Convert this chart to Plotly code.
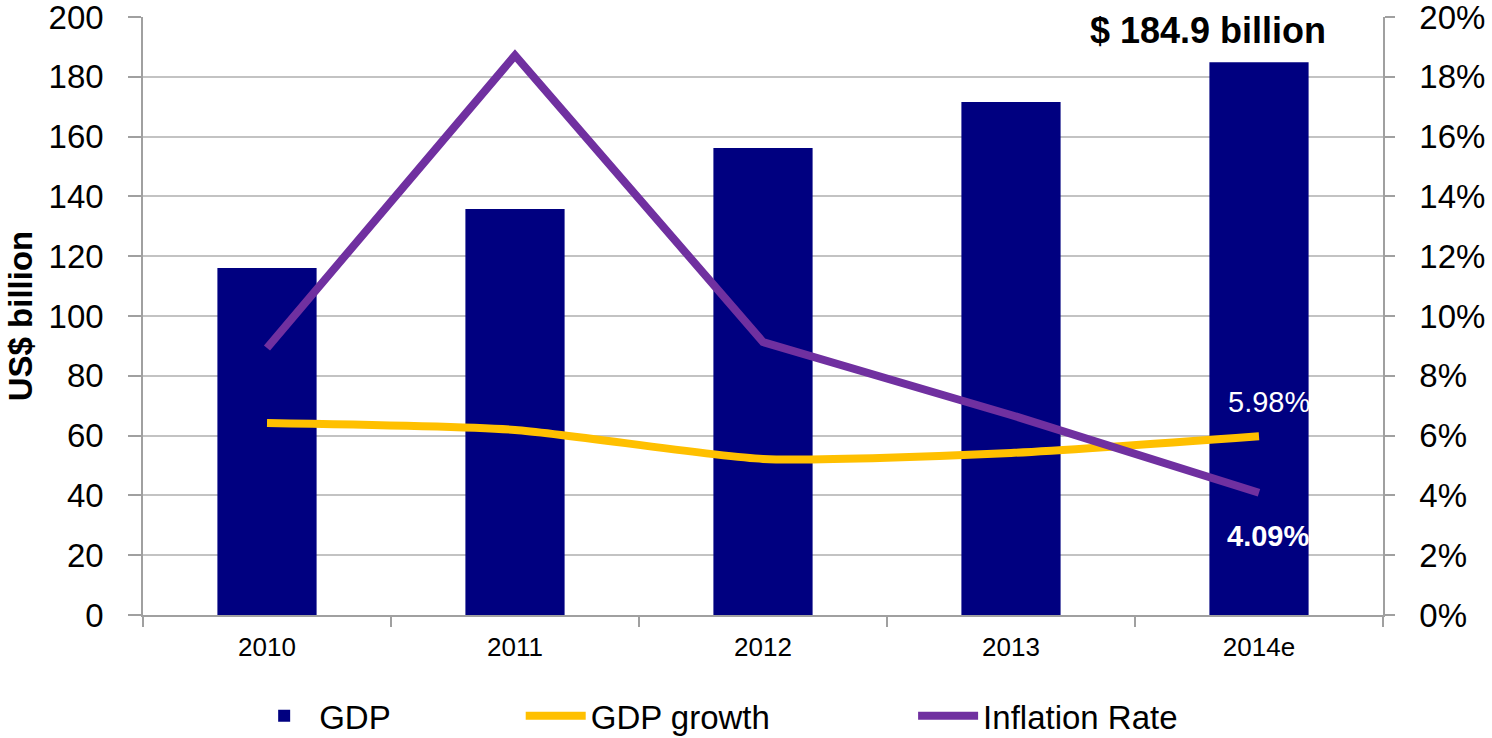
import plotly.graph_objects as go

years = ["2010", "2011", "2012", "2013", "2014e"]
gdp = [116.1, 135.8, 156.2, 171.6, 184.9]          # US$ billion
gdp_growth = [6.42, 6.19, 5.22, 5.42, 5.98]        # %
inflation = [8.93, 18.72, 9.13, 6.69, 4.09]        # %
left_ticks = list(range(0, 201, 20))
right_ticks = list(range(0, 21, 2))

FONT = "Liberation Sans, Arial, sans-serif"
NAVY = "#000080"
GOLD = "#FFC000"
PURPLE = "#7030A0"
GRID = "#c3c3c3"
AXIS = "#a0a0a0"

fig = go.Figure()

fig.add_trace(go.Bar(
    x=years, y=gdp, name="GDP", marker=dict(color=NAVY, line=dict(width=0)),
    legend="legend", showlegend=True,
))
fig.add_trace(go.Scatter(
    x=years, y=gdp_growth, name="GDP growth", yaxis="y2", mode="lines",
    line=dict(color=GOLD, width=8, shape="spline", smoothing=0.6),
    legend="legend2", showlegend=True,
))
fig.add_trace(go.Scatter(
    x=years, y=inflation, name="Inflation Rate", yaxis="y2", mode="lines",
    line=dict(color=PURPLE, width=8),
    legend="legend3", showlegend=True,
))

# value callouts on the last year
fig.add_annotation(
    x=years[-1], y=gdp[-1], xref="x", yref="y",
    text=f"<b>$ {gdp[-1]} billion</b>", showarrow=False,
    font=dict(family=FONT, size=36, color="black"),
    xshift=-51, yshift=32,
)
fig.add_annotation(
    x=years[-1], y=gdp_growth[-1], xref="x", yref="y2",
    text=f"{gdp_growth[-1]:.2f}%", showarrow=False,
    font=dict(family=FONT, size=29, color="white"),
    xshift=10, yshift=34,
)
fig.add_annotation(
    x=years[-1], y=inflation[-1], xref="x", yref="y2",
    text=f"<b>{inflation[-1]:.2f}%</b>", showarrow=False,
    font=dict(family=FONT, size=29, color="white"),
    xshift=9, yshift=-43,
)

legend_common = dict(
    orientation="h", xref="container", yref="container",
    yanchor="middle", y=0.03, bgcolor="rgba(0,0,0,0)",
    font=dict(family=FONT, size=33, color="black"),
    itemwidth=60, visible=True,
)

fig.update_layout(
    width=1492, height=738,
    margin=dict(l=143, r=109, t=17, b=123, autoexpand=False),
    paper_bgcolor="white", plot_bgcolor="white",
    bargap=0.6, showlegend=True,
    font=dict(family=FONT, color="black"),
    legend=dict(x=0.167, xanchor="left", **legend_common),
    legend2=dict(x=0.349, xanchor="left", **legend_common),
    legend3=dict(x=0.612, xanchor="left", **legend_common),
    xaxis=dict(
        type="category", tickson="boundaries", ticks="outside", ticklen=10,
        tickcolor=AXIS, tickwidth=1.5, showline=True, linecolor=AXIS, linewidth=1.5,
        showgrid=False, tickfont=dict(family=FONT, size=26, color="black"),
        ticklabelstandoff=8, automargin=False,
    ),
    yaxis=dict(
        range=[0, 200.01], tickvals=left_ticks, ticktext=[str(v) for v in left_ticks],
        ticks="outside", ticklen=13, tickcolor=AXIS,
        tickwidth=1.5, showline=True, linecolor=AXIS, linewidth=1.5,
        showgrid=True, gridcolor=GRID, gridwidth=1.5, zeroline=False,
        tickfont=dict(family=FONT, size=33, color="black"),
        ticklabelstandoff=18, ticklabeloverflow="allow", automargin=False,
        title=dict(text="<b>US$ billion</b>", font=dict(family=FONT, size=33, color="black"),
                   standoff=6),
    ),
    yaxis2=dict(
        range=[0, 20.001], tickvals=right_ticks, ticktext=[f"{v}%" for v in right_ticks],
        overlaying="y", side="right",
        ticks="outside", ticklen=10, tickcolor=AXIS, tickwidth=1.5,
        showline=True, linecolor=AXIS, linewidth=1.5, showgrid=False, zeroline=False,
        tickfont=dict(family=FONT, size=33, color="black"),
        ticklabelstandoff=18, ticklabeloverflow="allow", automargin=False,
    ),
)

fig.write_html("out.html")
